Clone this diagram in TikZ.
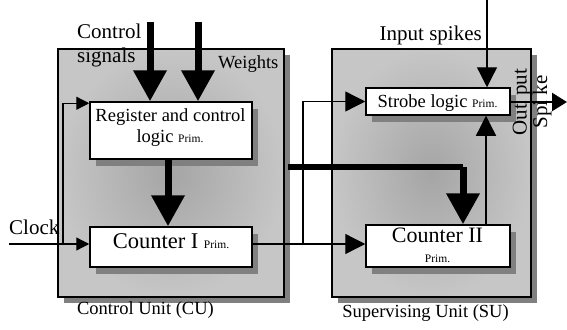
\documentclass[tikz,border=0pt]{standalone}
\usepackage{fontspec}
\setmainfont{Liberation Serif}
\usetikzlibrary{arrows.meta,shadows,calc}
\definecolor{unitin}{RGB}{165,165,165}
\definecolor{unitout}{RGB}{198,198,198}
\definecolor{shadowgray}{RGB}{128,128,128}
\newcommand{\primtxt}{{\fontsize{11.5}{12}\selectfont Prim.}}
\tikzset{
  unitbox/.style={draw=black, line width=1.5pt, inner sep=0pt, shading=radial, inner color=unitin, outer color=unitout,
    drop shadow={shadow xshift=6pt, shadow yshift=-6pt, fill=shadowgray, opacity=1}},
  blockbox/.style={draw=black, line width=1.5pt, fill=white, inner sep=0pt,
    drop shadow={shadow xshift=6pt, shadow yshift=-7pt, fill=shadowgray, opacity=1}},
  blocktext/.style={inner sep=0pt, anchor=base, font=\fontsize{18.5}{21}\selectfont},
  cnttext/.style={inner sep=0pt, anchor=base, font=\fontsize{22.5}{24}\selectfont},
  primtext/.style={inner sep=0pt, anchor=base, font=\fontsize{11.5}{12}\selectfont},
  thickarrow/.style={line width=7pt, -{Triangle[length=31pt,width=32pt]}},
  thickline/.style={line width=6pt},
  cuarrow/.style={line width=1.3pt, -{Triangle[length=13pt,width=13pt]}},
  suarrow/.style={line width=1.3pt, -{Triangle[length=20pt,width=20pt]}},
  outarrow/.style={line width=2.5pt, -{Triangle[length=15pt,width=18pt]}},
  biglabel/.style={inner sep=0pt, font=\fontsize{21}{24}\selectfont},
  midlabel/.style={inner sep=0pt, font=\fontsize{18.5}{21}\selectfont},
}
\begin{document}
\begin{tikzpicture}[x=1pt,y=-1pt]
\useasboundingbox (0,0) rectangle (567,329);
% units
\node[unitbox, minimum width=226pt, minimum height=248pt] (cu) at (171,173) {};
\node[unitbox, minimum width=199pt, minimum height=248pt] (su) at (431.5,173) {};
% blocks
\node[blockbox, minimum width=162pt, minimum height=57pt] (reg) at (171,130.5) {};
\node[blockbox, minimum width=162pt, minimum height=40pt] (cnt1) at (171,247) {};
\node[blockbox, minimum width=144pt, minimum height=27pt] (strobe) at (438,101.5) {};
\node[blockbox, minimum width=144pt, minimum height=42pt] (cnt2) at (438,246) {};
% block texts
\node[blocktext] (regt1) at (170.5,121) {Register and control};
\node[blocktext] (regt2) at (170,142) {logic \primtxt};
\node[cnttext] (cnt1t) at (171,248) {Counter I \primtxt};
\node[blocktext] (strobet) at (437.5,107) {Strobe logic \primtxt};
\node[cnttext, font=\fontsize{22}{24}\selectfont] (cnt2t) at (437.5,242) {Counter II};
\node[primtext] (cnt2p) at (437.5,262) {Prim.};
% coordinates
\coordinate (cs1) at (150,22);
\coordinate (cs2) at (198,22);
\coordinate (clk) at (9,244);
\coordinate (fb) at (63,244);
\coordinate (br) at (303,244);
\coordinate (w) at (288,167);
\coordinate (insp) at (487,0);
\coordinate (out) at (567,102);
% connectors
\draw[thickarrow] (cs1) -- (cs1 |- reg.north);
\draw[thickarrow] (cs2) -- (cs2 |- reg.north);
\draw[thickarrow] ([xshift=-3pt]reg.south) -- ([xshift=-3pt]cnt1.north);
\draw[cuarrow] (clk) -- (clk -| cnt1.west);
\draw[cuarrow] (fb) |- ([yshift=-2pt]reg.north west);
\draw[suarrow] (cnt1.east |- clk) -- (cnt2.west |- clk);
\draw[suarrow] (br) |- (strobe.west);
\draw[thickline] (w) -| ([xshift=25pt]cnt2.north |- w);
\draw[thickarrow] ([xshift=25pt]cnt2.north |- w) -- ([xshift=25pt]cnt2.north);
\draw[suarrow] ([xshift=48pt]cnt2.north) -- ([xshift=48pt]strobe.south);
\draw[suarrow] (insp) -- (insp |- strobe.north);
\draw[outarrow] (strobe.east |- out) -- (out);
% labels
\node[biglabel, anchor=base west] (lc1) at (77,39) {Control};
\node[biglabel, anchor=base west] (lc2) at (77,63) {signals};
\node[midlabel, anchor=base west] (lw) at (218,68) {Weights};
\node[biglabel, anchor=base west] (lclk) at (9,234) {Clock};
\node[biglabel, anchor=base east] (lin) at (482,41) {Input spikes};
\node[midlabel, anchor=base] (lcu) at (145.5,314) {Control Unit (CU)};
\node[midlabel, anchor=base] (lsu) at (425.5,317) {Supervising Unit (SU)};
\node[biglabel, rotate=90] (lout) at (522,102) {Out\hspace{3pt} put};
\node[biglabel, rotate=90] (lspk) at (542,102) {Spi ke};
\end{tikzpicture}
\end{document}
